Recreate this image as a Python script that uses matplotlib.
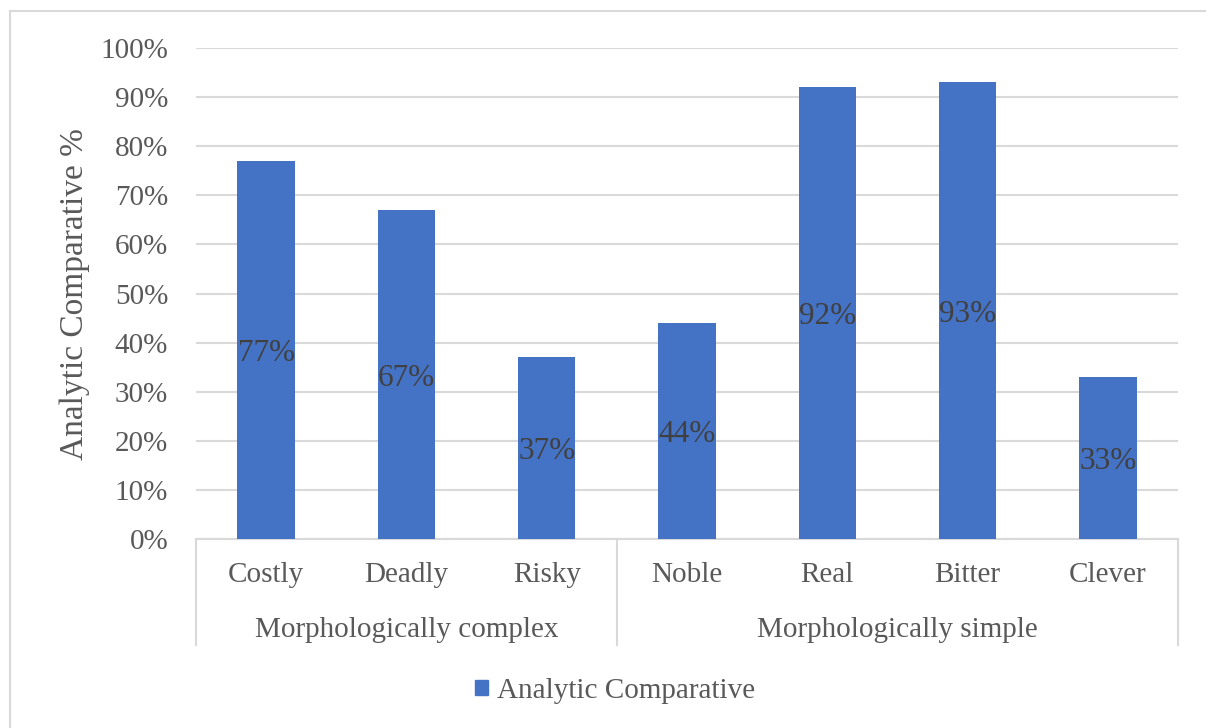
import matplotlib
matplotlib.use('Agg')

import matplotlib.pyplot as plt
from matplotlib.patches import Rectangle
from matplotlib.lines import Line2D

words = ["Costly", "Deadly", "Risky", "Noble", "Real", "Bitter", "Clever"]
values = [77, 67, 37, 44, 92, 93, 33]
groups = ["Morphologically complex", "Morphologically simple"]
group_sizes = [3, 4]

BAR = "#4472C4"
GRID = "#D9D9D9"
TEXT = "#595959"


def main():
    plt.rcParams['font.family'] = ['Liberation Serif', 'DejaVu Serif']

    fig = plt.figure(figsize=(12.06, 7.28), dpi=100)
    ax = fig.add_axes([196 / 1206, 1 - 539 / 728, 982 / 1206, 491 / 728])

    # outer chart frame, only its top and left edges fall inside the image
    fx, fy = 9.5 / 1206, 1 - 10.5 / 728
    fig.add_artist(Line2D([fx, 1.01], [fy, fy], transform=fig.transFigure,
                          color=GRID, linewidth=1.5))
    fig.add_artist(Line2D([fx, fx], [-0.01, fy], transform=fig.transFigure,
                          color=GRID, linewidth=1.5))

    x = list(range(len(words)))
    fracs = [v / 100 for v in values]
    ax.bar(x, fracs, width=0.41, color=BAR, zorder=3)

    # data labels sit in the middle of each bar
    for xi, f, v in zip(x, fracs, values):
        ax.text(xi, f / 2, f"{v}%", ha="center", va="center_baseline",
                fontsize=22.5, color="#404040", zorder=4)

    ax.set_xlim(-0.5, len(words) - 0.5)
    ax.set_ylim(0, 1)
    ax.set_yticks([i / 10 for i in range(11)])
    ax.set_yticklabels([f"{i * 10}%" for i in range(11)])
    ax.yaxis.grid(True, color=GRID, linewidth=1.5, zorder=0)
    ax.tick_params(axis="y", length=0, pad=20, labelsize=21, labelcolor=TEXT)
    ax.set_xticks([])
    for side in ["top", "right", "left"]:
        ax.spines[side].set_visible(False)
    ax.spines["bottom"].set_color(GRID)
    ax.spines["bottom"].set_linewidth(1.5)

    fig.text(75 / 1206, 1 - 294 / 728, "Analytic Comparative %", rotation=90,
             ha="center", va="center", fontsize=24, color=TEXT)

    # two-level category axis
    h = 491
    for xi, w in zip(x, words):
        ax.text(xi, -36 / h, w, transform=ax.get_xaxis_transform(),
                ha="center", va="center", fontsize=21, color=TEXT)
    edges = [-0.5]
    for n in group_sizes:
        edges.append(edges[-1] + n)
    for e in edges:
        ax.add_line(Line2D([e, e], [0, -106 / h], transform=ax.get_xaxis_transform(),
                           color=GRID, linewidth=1.5, clip_on=False))
    for g, a, b in zip(groups, edges[:-1], edges[1:]):
        ax.text((a + b) / 2, -91 / h, g, transform=ax.get_xaxis_transform(),
                ha="center", va="center", fontsize=21, color=TEXT)

    handle = Rectangle((0, 0), 1, 1, color=BAR)
    fig.legend([handle], ["Analytic Comparative"], loc="center",
               bbox_to_anchor=(615 / 1206, 1 - 691 / 728), frameon=False,
               fontsize=21, labelcolor=TEXT, handlelength=0.45, handleheight=0.45,
               handletextpad=0.3)

    fig.savefig("out.png", dpi=100)


if __name__ == "__main__":
    main()
